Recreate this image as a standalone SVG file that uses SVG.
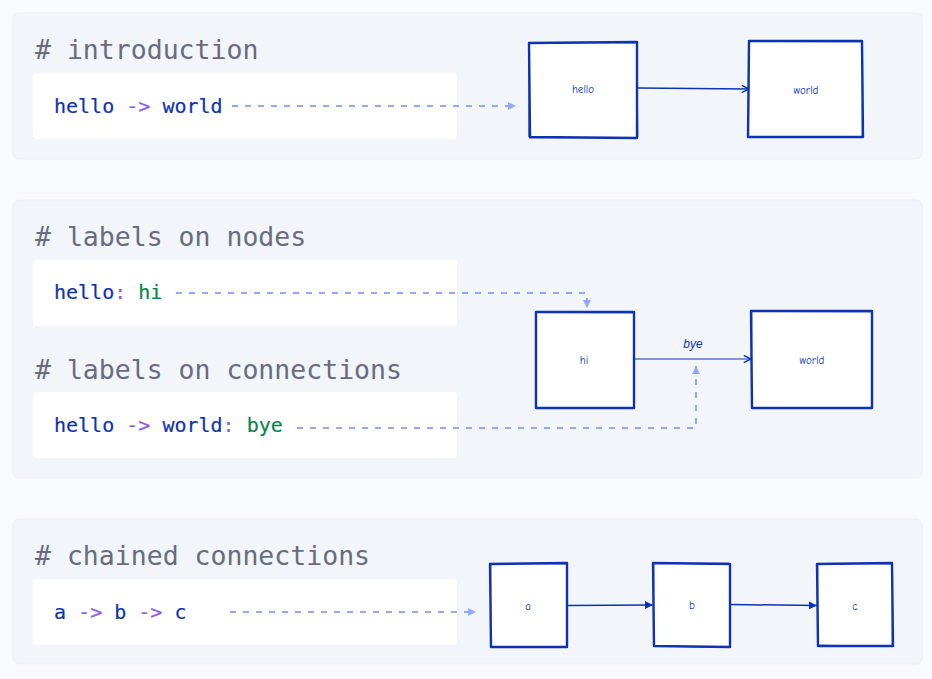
<svg xmlns="http://www.w3.org/2000/svg" width="932" height="679" viewBox="0 0 932 679">
<style>
.panel{fill:#F2F5FA;stroke:#ECEFF5;stroke-width:1}
.code{fill:#FFFFFF}
.h{font-family:"DejaVu Sans Mono","Liberation Mono",monospace;font-size:26.5px;fill:#676C7E}
.c{font-family:"DejaVu Sans Mono","Liberation Mono",monospace;font-size:20px;fill:#0D32B2;stroke:#0D32B2;stroke-width:0.2}
.op{fill:#8E5CEB;stroke:#8E5CEB}
.str{fill:#0A8548;stroke:#0A8548}
.dash{fill:none;stroke:#94A8FA;stroke-width:2;stroke-dasharray:6 7}
.box{fill:#FFFFFF;stroke:#0D32B2;stroke-width:2.4;stroke-linejoin:round}
.box2{fill:none;stroke:#0D32B2;stroke-width:1;opacity:0.6}
.lbl{font-family:"Comic Neue","Liberation Sans",sans-serif;font-size:11px;fill:#0D32B2;text-anchor:middle}
.edge{fill:none;stroke:#0D32B2;stroke-width:1.5}
.edgethin{fill:none;stroke:#0D32B2;stroke-width:1}
</style>
<defs>
<marker id="dh" viewBox="0 0 10 10" refX="10" refY="5" markerWidth="8" markerHeight="9" markerUnits="userSpaceOnUse" orient="auto">
<path d="M0,0 L10,5 L0,10 Z" fill="#94A8FA"/>
</marker>
<marker id="open" viewBox="0 0 10 10" refX="9" refY="5" markerWidth="9" markerHeight="9" markerUnits="userSpaceOnUse" orient="auto">
<path d="M1,1 L9,5 L1,9" fill="none" stroke="#0D32B2" stroke-width="1.6"/>
</marker>
<marker id="fill" viewBox="0 0 10 10" refX="10" refY="5" markerWidth="8" markerHeight="8" markerUnits="userSpaceOnUse" orient="auto">
<path d="M0,0 L10,5 L0,10 Z" fill="#0D32B2"/>
</marker>
</defs>
<rect x="0" y="0" width="932" height="679" fill="#F9FAFD"/>

<g id="section-introduction">
<rect class="panel" x="13" y="13" width="909" height="146" rx="6"/>
<text class="h" x="35" y="59"># introduction</text>
<rect class="code" x="33" y="73" width="424" height="66" rx="4"/>
<text class="c" x="54" y="113">hello <tspan class="op">-&gt;</tspan> world</text>
</g>

<g id="section-labels">
<rect class="panel" x="13" y="200" width="909" height="278" rx="6"/>
<text class="h" x="35" y="246"># labels on nodes</text>
<rect class="code" x="33" y="260" width="424" height="66" rx="4"/>
<text class="c" x="54" y="299">hello<tspan class="op">:</tspan> <tspan class="str">hi</tspan></text>
<text class="h" x="35" y="379"># labels on connections</text>
<rect class="code" x="33" y="392" width="424" height="66" rx="4"/>
<text class="c" x="54" y="432">hello <tspan class="op">-&gt;</tspan> world<tspan class="op">:</tspan> <tspan class="str">bye</tspan></text>
</g>

<g id="section-chained">
<rect class="panel" x="13" y="519" width="909" height="145" rx="6"/>
<text class="h" x="35" y="565"># chained connections</text>
<rect class="code" x="33" y="579" width="424" height="66" rx="4"/>
<text class="c" x="54" y="619">a <tspan class="op">-&gt;</tspan> b <tspan class="op">-&gt;</tspan> c</text>
</g>

<g id="connectors">
<path class="dash" d="M232,106 L516,106" marker-end="url(#dh)"/>
<path class="dash" d="M176,293 L587,293 L587,308" marker-end="url(#dh)"/>
<path class="dash" d="M297,428 L696,428 L696,366" marker-end="url(#dh)"/>
<path class="dash" d="M230,612 L476,612" marker-end="url(#dh)"/>
<path class="edge" d="M637,88 Q690,88.5 749,89" marker-end="url(#open)"/>
<path class="edgethin" d="M634,359 L751,359" marker-end="url(#open)"/>
<text x="693" y="348" style="font-family:'Liberation Sans',sans-serif;font-size:12px;font-style:italic;fill:#0D32B2;text-anchor:middle">bye</text>
<path class="edge" d="M567,605.5 L653,605" marker-end="url(#fill)"/>
<path class="edge" d="M730,604.5 L817,605.5" marker-end="url(#fill)"/>
</g>

<g id="node-hello">
<path class="box" d="M529,43 L637,42 L637,138 L530,137 Z"/>
<path class="box2" d="M530,42.5 L636,43 M636.5,43 L638,137 M637,137.5 L529,138 M528.5,137 L529,43"/>
<text class="lbl" x="583" y="93">hello</text>
</g>
<g id="node-world1">
<path class="box" d="M749,41 L862,41 L863,137 L748,137 Z"/>
<path class="box2" d="M748,41.5 L862,42 M862.5,41 L862,137 M863,137.5 L749,137 M748.5,138 L749,41"/>
<text class="lbl" x="806" y="94">world</text>
</g>
<g id="node-hi">
<path class="box" d="M536,312 L634,312 L634,408 L536,408 Z"/>
<path class="box2" d="M535,312.5 L634,313 M633.5,312 L634.5,408 M634,407.5 L535,408 M536.5,408 L535.5,312"/>
<text class="lbl" x="584" y="364">hi</text>
</g>
<g id="node-world2">
<path class="box" d="M751,311 L872,311 L872,408 L752,408 Z"/>
<path class="box2" d="M752,311.5 L871,312 M872.5,312 L871.5,408 M872,407.5 L751,408 M751.5,408 L752,311"/>
<text class="lbl" x="812" y="364">world</text>
</g>
<g id="node-a">
<path class="box" d="M490,564 L567,563 L567,647 L491,647 Z"/>
<path class="box2" d="M491,563.5 L566,564 M567.5,564 L566.5,647 M566,646.5 L490,647 M490.5,646 L491,564"/>
<text class="lbl" x="528" y="610">a</text>
</g>
<g id="node-b">
<path class="box" d="M653,563 L730,564 L730,647 L654,646 Z"/>
<path class="box2" d="M654,563.5 L729,563 M730.5,565 L729.5,646 M729,647.5 L653,646 M653.5,647 L654,564"/>
<text class="lbl" x="692" y="609">b</text>
</g>
<g id="node-c">
<path class="box" d="M817,564 L892,563 L893,646 L818,646 Z"/>
<path class="box2" d="M818,563.5 L891,564 M892.5,564 L892,646 M892,646.5 L817,645 M817.5,646 L818,564"/>
<text class="lbl" x="855" y="610">c</text>
</g>
</svg>
